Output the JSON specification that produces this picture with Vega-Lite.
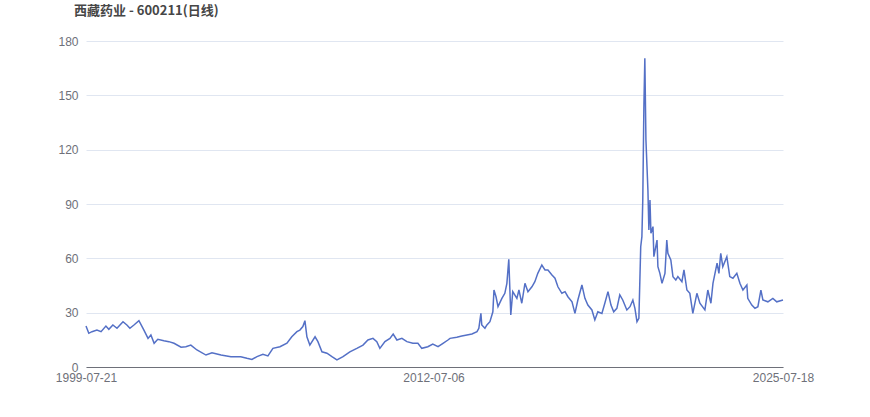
{
  "$schema": "https://vega.github.io/schema/vega-lite/v6.json",
  "width": 697,
  "height": 326,
  "autosize": {"type": "none"},
  "padding": {"left": 86, "top": 41, "right": 87, "bottom": 50},
  "background": "#ffffff",
  "config": {"view": {"stroke": null}},
  "title": {
    "text": "西藏药业 - 600211(日线)",
    "anchor": "start",
    "frame": "group",
    "dx": -12,
    "offset": 17,
    "font": "Noto Sans CJK SC",
    "fontSize": 13,
    "fontWeight": "bold",
    "color": "#464646"
  },
  "data": {
    "values": [
      {"date": "1999-07-21", "close": 22.6},
      {"date": "1999-08-28", "close": 18.6},
      {"date": "1999-10-10", "close": 19.5},
      {"date": "1999-12-17", "close": 20.4},
      {"date": "2000-02-11", "close": 19.5},
      {"date": "2000-04-17", "close": 22.6},
      {"date": "2000-05-27", "close": 20.8},
      {"date": "2000-07-21", "close": 23.2},
      {"date": "2000-09-15", "close": 21.4},
      {"date": "2000-12-06", "close": 25.0},
      {"date": "2001-01-28", "close": 23.2},
      {"date": "2001-03-10", "close": 21.4},
      {"date": "2001-05-04", "close": 23.2},
      {"date": "2001-07-11", "close": 25.6},
      {"date": "2001-09-17", "close": 20.4},
      {"date": "2001-11-12", "close": 15.8},
      {"date": "2001-12-21", "close": 17.7},
      {"date": "2002-02-03", "close": 13.1},
      {"date": "2002-03-25", "close": 15.3},
      {"date": "2002-06-16", "close": 14.5},
      {"date": "2002-08-23", "close": 14.0},
      {"date": "2002-11-01", "close": 13.1},
      {"date": "2003-02-05", "close": 10.9},
      {"date": "2003-04-11", "close": 11.2},
      {"date": "2003-06-18", "close": 12.1},
      {"date": "2003-09-09", "close": 9.4},
      {"date": "2004-01-10", "close": 6.6},
      {"date": "2004-04-01", "close": 7.9},
      {"date": "2004-08-02", "close": 6.6},
      {"date": "2004-12-15", "close": 5.7},
      {"date": "2005-04-28", "close": 5.7},
      {"date": "2005-07-20", "close": 4.8},
      {"date": "2005-09-27", "close": 4.2},
      {"date": "2005-12-05", "close": 5.7},
      {"date": "2006-02-24", "close": 7.0},
      {"date": "2006-05-03", "close": 6.1},
      {"date": "2006-07-10", "close": 10.3},
      {"date": "2006-10-14", "close": 11.2},
      {"date": "2007-01-17", "close": 13.1},
      {"date": "2007-03-24", "close": 16.7},
      {"date": "2007-06-02", "close": 19.5},
      {"date": "2007-07-12", "close": 20.4},
      {"date": "2007-08-22", "close": 22.3},
      {"date": "2007-09-19", "close": 25.6},
      {"date": "2007-10-16", "close": 16.7},
      {"date": "2007-11-25", "close": 12.1},
      {"date": "2008-02-04", "close": 16.7},
      {"date": "2008-03-14", "close": 14.0},
      {"date": "2008-05-08", "close": 8.4},
      {"date": "2008-07-15", "close": 7.6},
      {"date": "2008-09-21", "close": 5.7},
      {"date": "2008-11-28", "close": 3.9},
      {"date": "2009-02-19", "close": 5.7},
      {"date": "2009-05-23", "close": 8.4},
      {"date": "2009-08-26", "close": 10.3},
      {"date": "2009-11-18", "close": 12.1},
      {"date": "2010-01-24", "close": 14.9},
      {"date": "2010-04-03", "close": 15.8},
      {"date": "2010-05-25", "close": 14.0},
      {"date": "2010-07-06", "close": 10.3},
      {"date": "2010-09-13", "close": 14.0},
      {"date": "2010-11-20", "close": 15.8},
      {"date": "2011-01-03", "close": 18.2},
      {"date": "2011-02-23", "close": 14.9},
      {"date": "2011-05-02", "close": 15.8},
      {"date": "2011-07-09", "close": 14.0},
      {"date": "2011-09-28", "close": 13.1},
      {"date": "2011-12-06", "close": 13.1},
      {"date": "2012-01-28", "close": 10.3},
      {"date": "2012-04-19", "close": 11.2},
      {"date": "2012-06-26", "close": 12.7},
      {"date": "2012-09-05", "close": 11.2},
      {"date": "2012-11-12", "close": 13.1},
      {"date": "2013-01-18", "close": 14.9},
      {"date": "2013-02-15", "close": 15.8},
      {"date": "2013-05-19", "close": 16.4},
      {"date": "2013-07-26", "close": 17.1},
      {"date": "2013-10-04", "close": 17.7},
      {"date": "2013-12-11", "close": 18.2},
      {"date": "2014-02-18", "close": 19.5},
      {"date": "2014-03-15", "close": 21.4},
      {"date": "2014-04-12", "close": 29.6},
      {"date": "2014-04-24", "close": 23.2},
      {"date": "2014-06-06", "close": 21.4},
      {"date": "2014-07-03", "close": 23.2},
      {"date": "2014-08-13", "close": 25.0},
      {"date": "2014-09-22", "close": 30.5},
      {"date": "2014-10-07", "close": 42.5},
      {"date": "2014-11-04", "close": 38.8},
      {"date": "2014-12-01", "close": 33.3},
      {"date": "2015-01-23", "close": 37.9},
      {"date": "2015-03-04", "close": 40.7},
      {"date": "2015-04-01", "close": 46.2},
      {"date": "2015-04-27", "close": 59.5},
      {"date": "2015-05-24", "close": 28.7},
      {"date": "2015-06-20", "close": 41.6},
      {"date": "2015-08-15", "close": 37.9},
      {"date": "2015-09-12", "close": 42.5},
      {"date": "2015-10-21", "close": 35.2},
      {"date": "2015-12-03", "close": 46.2},
      {"date": "2016-01-13", "close": 41.6},
      {"date": "2016-03-07", "close": 44.3},
      {"date": "2016-04-16", "close": 47.1},
      {"date": "2016-05-26", "close": 51.7},
      {"date": "2016-07-20", "close": 56.3},
      {"date": "2016-09-01", "close": 53.6},
      {"date": "2016-10-11", "close": 53.6},
      {"date": "2016-12-05", "close": 50.8},
      {"date": "2017-01-15", "close": 49.0},
      {"date": "2017-02-24", "close": 44.3},
      {"date": "2017-04-19", "close": 40.7},
      {"date": "2017-06-01", "close": 41.6},
      {"date": "2017-07-10", "close": 38.8},
      {"date": "2017-09-04", "close": 36.0},
      {"date": "2017-10-14", "close": 29.6},
      {"date": "2017-11-23", "close": 37.0},
      {"date": "2018-01-17", "close": 45.3},
      {"date": "2018-02-27", "close": 37.9},
      {"date": "2018-04-08", "close": 34.2},
      {"date": "2018-06-02", "close": 31.5},
      {"date": "2018-07-12", "close": 26.0},
      {"date": "2018-08-22", "close": 30.5},
      {"date": "2018-10-16", "close": 29.6},
      {"date": "2018-11-25", "close": 35.2},
      {"date": "2019-01-07", "close": 41.6},
      {"date": "2019-02-17", "close": 34.2},
      {"date": "2019-03-26", "close": 30.5},
      {"date": "2019-05-08", "close": 32.4},
      {"date": "2019-06-17", "close": 39.8},
      {"date": "2019-07-27", "close": 37.0},
      {"date": "2019-09-21", "close": 31.5},
      {"date": "2019-11-03", "close": 33.3},
      {"date": "2019-12-12", "close": 37.0},
      {"date": "2020-01-09", "close": 32.4},
      {"date": "2020-02-06", "close": 25.0},
      {"date": "2020-03-03", "close": 26.9},
      {"date": "2020-03-28", "close": 66.4},
      {"date": "2020-04-13", "close": 72.0},
      {"date": "2020-04-25", "close": 92.2},
      {"date": "2020-05-10", "close": 143.7},
      {"date": "2020-05-23", "close": 170.5},
      {"date": "2020-06-07", "close": 125.3},
      {"date": "2020-07-04", "close": 97.7},
      {"date": "2020-07-17", "close": 75.6},
      {"date": "2020-08-01", "close": 92.2},
      {"date": "2020-08-14", "close": 73.8},
      {"date": "2020-09-11", "close": 77.5},
      {"date": "2020-09-23", "close": 60.9},
      {"date": "2020-11-05", "close": 70.1},
      {"date": "2020-11-17", "close": 55.4},
      {"date": "2020-12-14", "close": 51.7},
      {"date": "2021-01-12", "close": 46.2},
      {"date": "2021-02-21", "close": 51.7},
      {"date": "2021-03-18", "close": 70.1},
      {"date": "2021-04-02", "close": 62.8},
      {"date": "2021-05-12", "close": 59.1},
      {"date": "2021-06-10", "close": 49.9},
      {"date": "2021-07-19", "close": 48.0},
      {"date": "2021-08-16", "close": 49.9},
      {"date": "2021-10-10", "close": 47.1},
      {"date": "2021-11-07", "close": 53.6},
      {"date": "2021-12-17", "close": 42.5},
      {"date": "2022-01-26", "close": 40.7},
      {"date": "2022-03-08", "close": 29.6},
      {"date": "2022-05-02", "close": 40.7},
      {"date": "2022-06-12", "close": 35.2},
      {"date": "2022-08-19", "close": 31.5},
      {"date": "2022-09-28", "close": 42.5},
      {"date": "2022-11-09", "close": 35.2},
      {"date": "2022-12-07", "close": 46.2},
      {"date": "2023-02-01", "close": 57.3},
      {"date": "2023-02-26", "close": 51.7},
      {"date": "2023-03-23", "close": 62.8},
      {"date": "2023-04-20", "close": 55.4},
      {"date": "2023-06-14", "close": 60.9},
      {"date": "2023-07-24", "close": 49.9},
      {"date": "2023-09-05", "close": 49.0},
      {"date": "2023-10-28", "close": 51.7},
      {"date": "2023-12-09", "close": 46.2},
      {"date": "2024-01-19", "close": 42.5},
      {"date": "2024-03-13", "close": 45.3},
      {"date": "2024-03-25", "close": 37.9},
      {"date": "2024-05-19", "close": 34.2},
      {"date": "2024-07-01", "close": 32.4},
      {"date": "2024-08-10", "close": 33.3},
      {"date": "2024-09-20", "close": 42.5},
      {"date": "2024-10-17", "close": 37.0},
      {"date": "2024-12-24", "close": 36.0},
      {"date": "2025-03-02", "close": 37.9},
      {"date": "2025-04-24", "close": 36.0},
      {"date": "2025-07-18", "close": 37.0}
    ]
  },
  "mark": {"type": "line", "color": "#5470c6", "strokeWidth": 1.5, "interpolate": "linear"},
  "encoding": {
    "x": {
      "field": "date",
      "type": "temporal",
      "scale": {
        "domain": [
          {"year": 1999, "month": 7, "date": 21, "utc": true},
          {"year": 2025, "month": 7, "date": 18, "utc": true}
        ],
        "nice": false
      },
      "axis": {
        "title": null,
        "values": [
          {"year": 1999, "month": 7, "date": 21, "utc": true},
          {"year": 2012, "month": 7, "date": 6, "utc": true},
          {"year": 2025, "month": 7, "date": 18, "utc": true}
        ],
        "format": "%Y-%m-%d",
        "grid": false,
        "ticks": false,
        "domainColor": "#6E7079",
        "domainWidth": 1,
        "labelColor": "#6E7079",
        "labelFont": "Liberation Sans",
        "labelFontSize": 12,
        "labelPadding": 5,
        "labelOverlap": false,
        "labelFlush": false,
        "labelAlign": "center"
      }
    },
    "y": {
      "field": "close",
      "type": "quantitative",
      "scale": {"domain": [0, 180], "nice": false, "zero": true},
      "axis": {
        "title": null,
        "values": [0, 30, 60, 90, 120, 150, 180],
        "domain": false,
        "ticks": false,
        "grid": true,
        "gridColor": "#E0E6F1",
        "gridWidth": 1,
        "labelColor": "#6E7079",
        "labelFont": "Liberation Sans",
        "labelFontSize": 12,
        "labelPadding": 8
      }
    }
  }
}
